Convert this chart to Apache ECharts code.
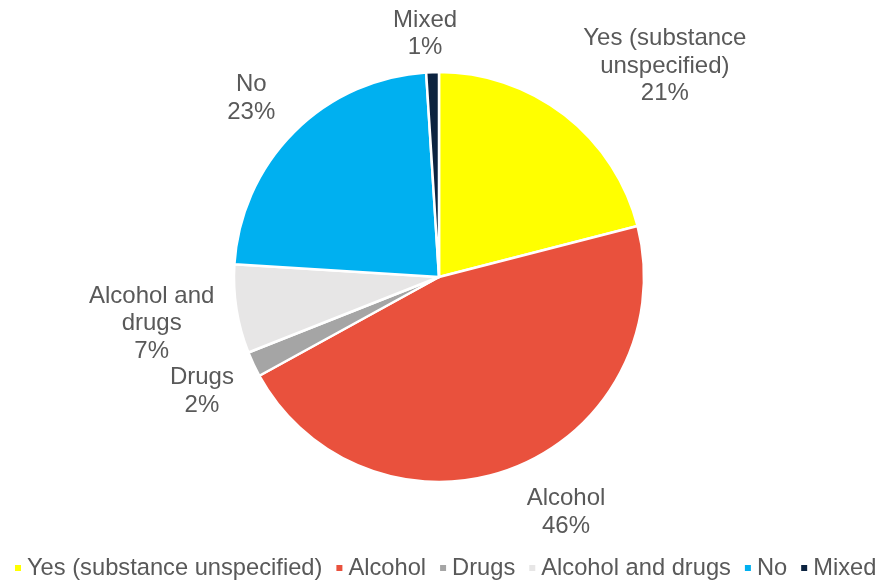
<!DOCTYPE html>
<html>
<head>
<meta charset="utf-8">
<script src="https://cdn.jsdelivr.net/npm/echarts@6/dist/echarts.min.js"></script>
<style>
  html, body { margin: 0; padding: 0; background: #fff; }
  #chart { width: 880px; height: 582px; }
</style>
</head>
<body>
<div id="chart"></div>
<script>
// Share of cases by substance involvement
const categories = ['Yes (substance unspecified)', 'Alcohol', 'Drugs', 'Alcohol and drugs', 'No', 'Mixed'];
const labelNames = ['Yes (substance\nunspecified)', 'Alcohol', 'Drugs', 'Alcohol and\ndrugs', 'No', 'Mixed'];
const values = [21, 46, 2, 7, 23, 1];
const colors = ['#FFFF00', '#E9513D', '#A5A5A5', '#E7E6E6', '#00B0F0', '#0C2340'];
// label nudges (dx, dy) per slice
const labelShift = [[86, -37], [41, 31], [-33, 9], [-69, 12], [-32, -23], [-2, -23]];

const FONT = 'Liberation Sans, Arial, sans-serif';
const chart = echarts.init(document.getElementById('chart'));
chart.setOption({
  animation: false,
  color: colors,
  textStyle: { fontFamily: FONT },
  legend: {
    top: 556,
    left: 13,
    right: 0,
    padding: 0,
    icon: 'rect',
    itemWidth: 8,
    itemHeight: 8,
    itemGap: 12,
    textStyle: { fontSize: 23.7, color: '#595959', fontFamily: FONT },
    data: categories
  },
  series: [{
    type: 'pie',
    center: [439, 277],
    radius: 205,
    startAngle: 90,
    clockwise: true,
    itemStyle: { borderColor: '#fff', borderWidth: 2.5 },
    label: {
      show: true,
      position: 'outside',
      formatter: p => labelNames[p.dataIndex] + '\n' + p.percent.toFixed(0) + '%',
      fontSize: 24,
      lineHeight: 27.5,
      color: '#595959',
      align: 'center',
      fontFamily: FONT
    },
    labelLine: { show: false, length: 15, length2: 0 },
    labelLayout: p => ({
      align: 'center',
      verticalAlign: 'middle',
      dx: labelShift[p.dataIndex][0],
      dy: labelShift[p.dataIndex][1]
    }),
    data: categories.map((c, i) => ({ name: c, value: values[i] }))
  }]
});
</script>
</body>
</html>
